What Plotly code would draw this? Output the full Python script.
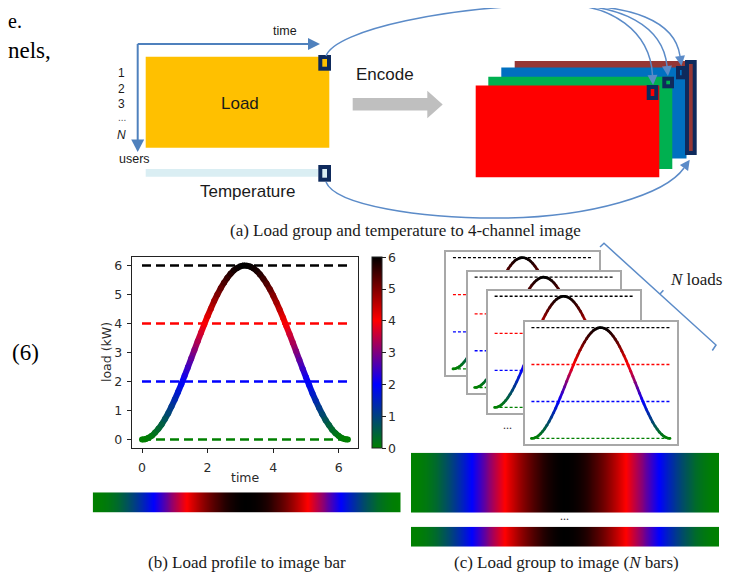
import plotly.graph_objects as go

# ---------------- data ----------------
time = [0.0, 0.1, 0.2, 0.3, 0.4, 0.5, 0.6, 0.7, 0.8, 0.9,
        1.0, 1.1, 1.2, 1.3, 1.4, 1.5, 1.6, 1.7, 1.8, 1.9,
        2.0, 2.1, 2.2, 2.3, 2.4, 2.5, 2.6, 2.7, 2.8, 2.9,
        3.0, 3.1, 3.2, 3.3, 3.4, 3.5, 3.6, 3.7, 3.8, 3.9,
        4.0, 4.1, 4.2, 4.3, 4.4, 4.5, 4.6, 4.7, 4.8, 4.9,
        5.0, 5.1, 5.2, 5.3, 5.4, 5.5, 5.6, 5.7, 5.8, 5.9,
        6.0, 6.1, 6.2, 6.28]
load = [0.00, 0.01, 0.06, 0.13, 0.24, 0.37, 0.52, 0.71, 0.91, 1.14,
        1.38, 1.64, 1.91, 2.20, 2.49, 2.79, 3.09, 3.39, 3.68, 3.97,
        4.25, 4.51, 4.77, 5.00, 5.21, 5.40, 5.57, 5.71, 5.83, 5.91,
        5.97, 6.00, 5.99, 5.96, 5.90, 5.81, 5.69, 5.54, 5.37, 5.18,
        4.96, 4.72, 4.47, 4.20, 3.92, 3.63, 3.34, 3.04, 2.74, 2.44,
        2.15, 1.87, 1.59, 1.34, 1.10, 0.87, 0.67, 0.50, 0.34, 0.22,
        0.12, 0.05, 0.01, 0.00]
ref_levels = [0, 2, 4, 6]
ref_colors = ["#008000", "#0000ff", "#ff0000", "#000000"]
x_ticks = [0, 2, 4, 6]
y_ticks = [0, 1, 2, 3, 4, 5, 6]
cbar_ticks = [0, 1, 2, 3, 4, 5, 6]

# page body has an 8px margin: draw a figure 8px smaller and shift the frame
OFF = 8
W, H = 744 - OFF, 574 - OFF
CS = [[0.0, "#008000"], [1 / 3, "#0000ff"], [2 / 3, "#ff0000"], [1.0, "#000000"]]
_stops = [(0.0, (0, 128, 0)), (1 / 3, (0, 0, 255)), (2 / 3, (255, 0, 0)), (1.0, (0, 0, 0))]


def cmap(v):
    f = min(max(v / 6.0, 0.0), 1.0)
    for (a, ca), (b, cb) in zip(_stops[:-1], _stops[1:]):
        if f <= b:
            t = (f - a) / (b - a)
            return "rgb(%d,%d,%d)" % tuple(round(ca[i] + (cb[i] - ca[i]) * t) for i in range(3))
    return "rgb(0,0,0)"


def px(x):
    return (x - OFF) / W


def py(y):
    return 1 - (y - OFF) / H


fig = go.Figure()


def add_profile(n, lw, msize, dw, dash, main=False):
    xa = "x" if n == 1 else "x%d" % n
    ya = "y" if n == 1 else "y%d" % n
    for lvl, col in zip(ref_levels, ref_colors):
        fig.add_trace(go.Scatter(x=[time[0], time[-1]], y=[lvl, lvl], mode="lines",
                                 line=dict(color=col, width=dw, dash=dash),
                                 xaxis=xa, yaxis=ya, hoverinfo="skip", showlegend=False))
    for i in range(len(time) - 1):
        fig.add_trace(go.Scatter(x=[time[i], time[i + 1]], y=[load[i], load[i + 1]], mode="lines",
                                 line=dict(color=cmap((load[i] + load[i + 1]) / 2), width=lw),
                                 xaxis=xa, yaxis=ya, hoverinfo="skip", showlegend=False))
    marker = dict(size=msize, color=load, colorscale=CS, cmin=0, cmax=6, line=dict(width=0))
    if main:
        marker.update(showscale=True, colorbar=dict(
            x=px(372.3), xanchor="left", y=py(352.7), yanchor="middle",
            len=191, lenmode="pixels", thickness=9.5, thicknessmode="pixels",
            xpad=0, ypad=0, outlinewidth=1, outlinecolor="#222222",
            tickvals=cbar_ticks, ticks="outside", ticklen=3.5, tickwidth=1, tickcolor="#222222",
            tickfont=dict(family="DejaVu Sans", size=12.5, color="#2b2b2b")))
    fig.add_trace(go.Scatter(x=time, y=load, mode="markers", marker=marker,
                             xaxis=xa, yaxis=ya, hoverinfo="skip", showlegend=False))


# main chart (b)
add_profile(1, 6, 6, 2.5, "9px,5px", main=True)

# image bars
for n in (2, 3, 4):
    fig.add_trace(go.Heatmap(z=[load, load], x=time, y=[0, 1], colorscale=CS, zmin=0, zmax=6,
                             zsmooth="best", showscale=False, xaxis="x%d" % n, yaxis="y%d" % n,
                             hoverinfo="skip"))

# stacked mini charts (c)
for n in (5, 6, 7, 8):
    add_profile(n, 2.7, 2.7, 1.3, "3px,2px")

axfont = dict(family="DejaVu Sans", size=12.5, color="#2b2b2b")
layout = dict(
    width=W, height=H, margin=dict(l=0, r=0, t=0, b=0),
    paper_bgcolor="white", plot_bgcolor="white", showlegend=False,
    xaxis=dict(domain=[px(131.7), px(358.3)], range=[-0.314, 6.597], anchor="y",
               tickvals=x_ticks, ticks="outside", ticklen=4, tickwidth=1, tickcolor="#222222",
               ticklabelstandoff=4,
               showline=True, mirror=True, linecolor="#222222", linewidth=1,
               showgrid=False, zeroline=False, tickfont=axfont),
    yaxis=dict(domain=[py(448.3), py(256.7)], range=[-0.3, 6.3], anchor="x",
               tickvals=y_ticks, ticks="outside", ticklen=4, tickwidth=1, tickcolor="#222222",
               ticklabelstandoff=2,
               showline=True, mirror=True, linecolor="#222222", linewidth=1,
               showgrid=False, zeroline=False, tickfont=axfont),
)

bars = {2: (92.7, 400.7, 492.3, 512.7), 3: (411, 719, 452.7, 512.7), 4: (411, 719, 526.7, 546.7)}
for n, (x0, x1, y0, y1) in bars.items():
    layout["xaxis%d" % n] = dict(domain=[px(x0), px(x1)], range=[time[0], time[-1]],
                                 visible=False, anchor="y%d" % n)
    layout["yaxis%d" % n] = dict(domain=[py(y1), py(y0)], range=[0, 1],
                                 visible=False, anchor="x%d" % n)

frames = {5: (446, 599, 252, 374.5), 6: (467.7, 620, 271.7, 393),
          7: (487.7, 640, 290.7, 413), 8: (524.5, 677, 322, 444)}
for n, (x0, x1, y0, y1) in frames.items():
    common = dict(showline=True, mirror=True, linecolor="#A8A8A8", linewidth=1.6,
                  showticklabels=False, ticks="", showgrid=False, zeroline=False)
    layout["xaxis%d" % n] = dict(domain=[px(x0), px(x1)], range=[-0.314, 6.597],
                                 anchor="y%d" % n, **common)
    layout["yaxis%d" % n] = dict(domain=[py(y1), py(y0)], range=[-0.3, 6.3],
                                 anchor="x%d" % n, **common)

# ---------------- diagram (a) ----------------
shapes = []


def path(*segs):
    s = ""
    for seg in segs:
        s += seg[0] + " ".join("%.5f,%.5f" % (px(x), py(y)) for x, y in seg[1:]) + " "
    return s.strip()


def rect(x0, x1, y0, y1, fill):
    shapes.append(dict(type="rect", xref="paper", yref="paper", x0=px(x0), x1=px(x1),
                       y0=py(y1), y1=py(y0), fillcolor=fill, line=dict(width=0), layer="above"))


def poly(pts, fill):
    segs = [("M", pts[0])] + [("L", p) for p in pts[1:]] + [("Z",)]
    shapes.append(dict(type="path", xref="paper", yref="paper", path=path(*segs),
                       fillcolor=fill, line=dict(width=0), layer="above"))


def curve(segs, color="#5B8BC8", width=1.5):
    shapes.append(dict(type="path", xref="paper", yref="paper", path=path(*segs),
                       line=dict(color=color, width=width), layer="above"))


def arrowhead(base, direction, color="#5B8BC8", L=10, hw=5):
    dx, dy = direction
    m = (dx * dx + dy * dy) ** 0.5
    dx, dy = dx / m, dy / m
    tip = (base[0] + L * dx, base[1] + L * dy)
    w1 = (base[0] - hw * dy, base[1] + hw * dx)
    w2 = (base[0] + hw * dy, base[1] - hw * dx)
    poly([tip, w1, w2], color)


def marker(x0, x1, y0, y1, inner):
    shapes.append(dict(type="rect", xref="paper", yref="paper", x0=px(x0), x1=px(x1),
                       y0=py(y1), y1=py(y0), fillcolor="#0E2A5C",
                       line=dict(width=0), layer="above"))
    rect(x0 + 4, x1 - 4, y0 + 4, y1 - 4, inner)


rect(145.7, 329.3, 56.7, 147.7, "#FFC000")
rect(145.7, 318, 169, 176.7, "#DAEEF3")
curve([("M", (137.7, 44)), ("L", (309, 44))], color="#4F81BD", width=2)
curve([("M", (137.7, 44)), ("L", (137.7, 140))], color="#4F81BD", width=2)
arrowhead((308, 44), (1, 0), color="#4F81BD", L=12, hw=6)
arrowhead((137.7, 139.5), (0, 1), color="#4F81BD", L=12.5, hw=6.5)
marker(318.3, 331, 55, 70.7, "#FFC000")
marker(318.3, 331, 165, 181.7, "#DAEEF3")

rect(514.7, 692, 61, 150, "#953735")
rect(501.3, 686.5, 67.5, 158.5, "#0070C0")
rect(488.3, 672.3, 76.7, 169, "#00B050")
rect(475.7, 659.3, 85.5, 177.3, "#FF0000")
marker(646.7, 658.3, 85, 100, "#FF0000")
marker(662.3, 674, 76.7, 88.3, "#00B050")
marker(676, 685.7, 66, 79.3, "#0070C0")
marker(685, 696.7, 60, 155, "#953735")

poly([(352.7, 98), (427.3, 98), (427.3, 90.7), (442.7, 104.4), (427.3, 118.2),
      (427.3, 110.6), (352.7, 110.6)], "#BFBFBF")

curve([("M", (326, 56)), ("C", (335, 30), (450, 5), (565, 5))])
curve([("M", (565, 5)), ("C", (610, 5), (650, 30), (652.5, 75))])
curve([("M", (565, 5)), ("C", (620, 5), (663, 25), (667, 66))])
curve([("M", (565, 5)), ("C", (630, 5), (675, 20), (680, 56))])
arrowhead((652.5, 75), (2.5, 45))
arrowhead((667, 66), (4, 41))
arrowhead((680, 56), (5, 36))
curve([("M", (326, 182)), ("C", (335, 205), (420, 219), (505, 218)),
       ("C", (590, 217), (665, 195), (684, 168))])
arrowhead((684, 168), (19, -27))

# brace "N loads"
curve([("M", (600, 247)), ("L", (604, 243.3)), ("L", (716, 345)), ("L", (712.3, 350.5))])
curve([("M", (660, 294)), ("L", (663.4, 290.3))])

layout["shapes"] = shapes

annots = []


def ann(text, x, y, size, family="Liberation Sans", color="#000000", xanchor="center",
        angle=0):
    annots.append(dict(text=text, x=px(x), y=py(y), xref="paper", yref="paper",
                       xanchor=xanchor, yanchor="middle", showarrow=False, textangle=angle,
                       font=dict(size=size, family=family, color=color)))


SERIF = "Liberation Serif"
ann("e.", 6, 21, 20, SERIF, xanchor="left")
ann("nels,", 6, 51, 23, SERIF, xanchor="left")
ann("(6)", 10, 352, 23, SERIF, xanchor="left")
ann("time", 285, 31, 12.5, color="#1a1a1a")
ann("1", 121.5, 73, 12, color="#1a1a1a")
ann("2", 121.5, 88.5, 12, color="#1a1a1a")
ann("3", 121.5, 104, 12, color="#1a1a1a")
ann("...", 121.5, 117, 10, color="#555555")
ann("<i>N</i>", 121.5, 135, 12, color="#1a1a1a")
ann("users", 135, 159, 12.5, color="#1a1a1a")
ann("Load", 240.5, 104, 17, color="#1a1a1a")
ann("Temperature", 247, 191.5, 17, color="#1a1a1a")
ann("Encode", 385, 75, 17, color="#1a1a1a")
ann("(a) Load group and temperature to 4-channel image", 405, 230, 17, SERIF, color="#1a1a1a")
ann("time", 245, 477, 12.5, "DejaVu Sans", color="#2b2b2b")
ann("load (kW)", 106.5, 352.5, 12.5, "DejaVu Sans", color="#2b2b2b", angle=-90)
ann("(b) Load profile to image bar", 247, 562, 17, SERIF, color="#1a1a1a")
ann("(c) Load group to image (<i>N</i> bars)", 566, 562, 17, SERIF, color="#1a1a1a")
ann("<i>N</i> loads", 696, 279.5, 17, SERIF, color="#1a1a1a")
ann("...", 507, 425, 12, SERIF, color="#333333")
ann("...", 564, 516, 12, SERIF, color="#333333")
layout["annotations"] = annots

fig.update_layout(**layout)
fig.write_html("out.html")
